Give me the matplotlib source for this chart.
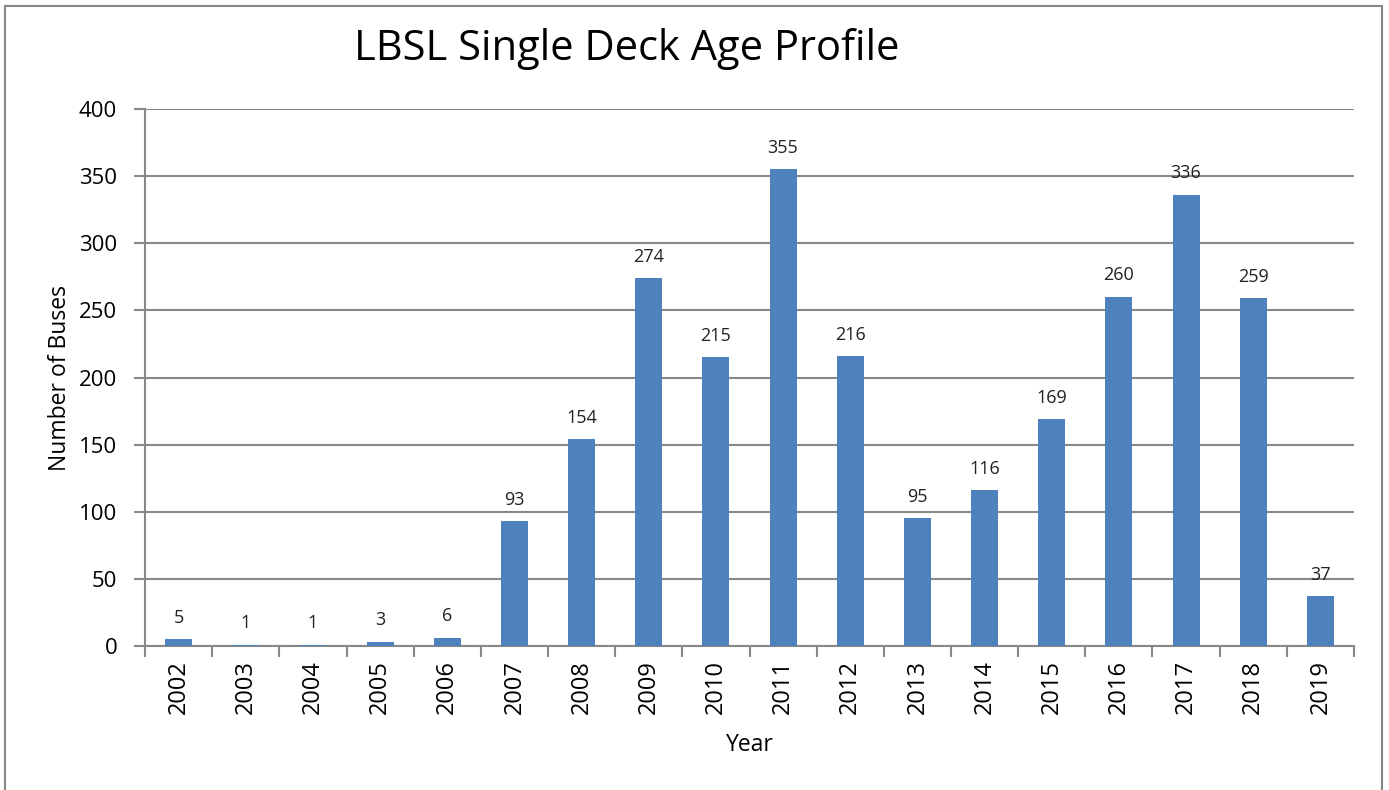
import matplotlib.pyplot as plt
from matplotlib.patches import Rectangle

years = ['2002', '2003', '2004', '2005', '2006', '2007', '2008', '2009', '2010',
         '2011', '2012', '2013', '2014', '2015', '2016', '2017', '2018', '2019']
buses = [5, 1, 1, 3, 6, 93, 154, 274, 215, 355, 216, 95, 116, 169, 260, 336, 259, 37]

plt.rcParams['font.family'] = ['Open Sans', 'DejaVu Sans']

fig = plt.figure(figsize=(13.89, 7.90), dpi=100)
ax = fig.add_axes([0.1044, 0.1823, 0.8704, 0.6797])

x = range(len(years))
ax.bar(x, buses, width=0.4, color='#4F81BD', zorder=3)
for i, v in zip(x, buses):
    ax.annotate(str(v), (i, v), xytext=(0, 9), textcoords='offset points',
                ha='center', va='bottom', fontsize=13, color='#222222')

ax.set_xlim(-0.5, len(years) - 0.5)
ax.set_ylim(0, 400)
ax.set_yticks(range(0, 401, 50))
ax.set_xticks([i - 0.5 for i in range(len(years) + 1)], minor=False)
ax.set_xticklabels([])
ax.set_xticks(list(x), minor=True)
ax.set_xticklabels(years, minor=True, rotation=90, fontsize=17)
ax.tick_params(axis='x', which='minor', length=0, pad=10)
ax.tick_params(axis='x', which='major', length=8, color='#888888', width=1.5)
ax.tick_params(axis='y', length=8, color='#888888', width=1.5, labelsize=16, pad=12)

ax.yaxis.grid(True, color='#888888', linewidth=1.5, zorder=0)
for s in ['top', 'right']:
    ax.spines[s].set_visible(False)
for s in ['left', 'bottom']:
    ax.spines[s].set_color('#888888')
    ax.spines[s].set_linewidth(1.5)

ax.set_xlabel('Year', fontsize=16.5, labelpad=14)
ax.set_ylabel('Number of Buses', fontsize=16.5, labelpad=5)
fig.text(0.451, 0.938, 'LBSL Single Deck Age Profile', fontsize=30,
         ha='center', va='center')

fig.patches.append(Rectangle((0.0036, -0.05), 0.9914, 1.042, transform=fig.transFigure,
                             fill=False, edgecolor='#888888', linewidth=1.5))

fig.savefig('out.png', dpi=100)
